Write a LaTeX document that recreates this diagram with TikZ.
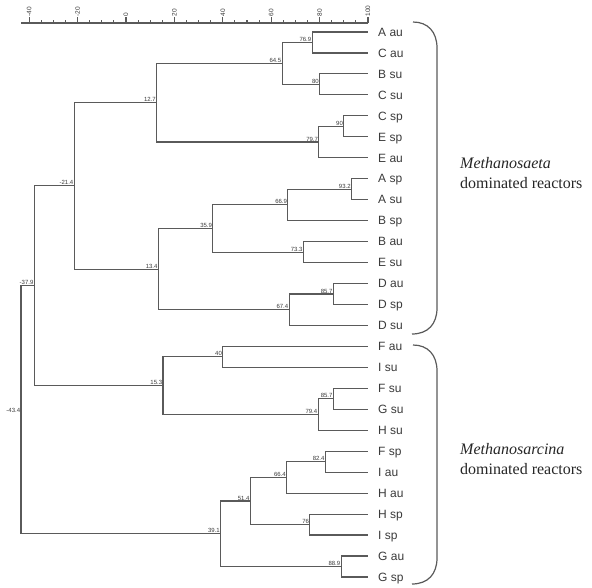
\documentclass[tikz,border=0pt]{standalone}
\usepackage{fontspec}
\setmainfont{Liberation Serif}
\setsansfont{Liberation Sans}
\definecolor{treegray}{HTML}{5A5A5A}
\definecolor{labelgray}{HTML}{3A3A3A}
\begin{document}
\begin{tikzpicture}[x=1pt, y=-1pt,
  link/.style={draw=treegray, line width=1.1pt},
  leaf/.style={anchor=west, inner xsep=10pt, inner ysep=0pt, text height=8.6pt,
    text depth=0pt, font=\sffamily\fontsize{12}{14}\selectfont, text=labelgray},
  val/.style={anchor=south east, inner sep=0.7pt, font=\sffamily\fontsize{6}{7}\selectfont, text=labelgray},
  axval/.style={rotate=90, anchor=west, inner sep=0.5pt, font=\sffamily\fontsize{6.5}{7}\selectfont, text=labelgray},
  brace/.style={draw=treegray, line width=1.2pt},
  grp/.style={anchor=west, align=left, inner sep=0pt, font=\fontsize{16}{20}\selectfont, text=black!85}
]
  \useasboundingbox (0,0) rectangle (592,588);

  % Axis
  \draw[link] (21,23) -- (368,23);
  \foreach \v in {-40,-35,...,100}
    \draw[link] ({126+2.42*\v},23) -- ++(0,-2.6);
  \foreach \v in {-40,-20,...,100} {
    \draw[link] ({126+2.42*\v},23) -- ++(0,-5.5);
    \node[axval] at ({126+2.42*\v},17) {\v};
  }

  % Leaves
  \node[leaf] (aau) at (368,32) {A au};
  \node[leaf] (cau) at (368,53) {C au};
  \node[leaf] (bsu) at (368,73.9) {B su};
  \node[leaf] (csu) at (368,94.9) {C su};
  \node[leaf] (csp) at (368,115.8) {C sp};
  \node[leaf] (esp) at (368,136.8) {E sp};
  \node[leaf] (eau) at (368,157.8) {E au};
  \node[leaf] (asp) at (368,178.7) {A sp};
  \node[leaf] (asu) at (368,199.7) {A su};
  \node[leaf] (bsp) at (368,220.6) {B sp};
  \node[leaf] (bau) at (368,241.6) {B au};
  \node[leaf] (esu) at (368,262.6) {E su};
  \node[leaf] (dau) at (368,283.5) {D au};
  \node[leaf] (dsp) at (368,304.5) {D sp};
  \node[leaf] (dsu) at (368,325.4) {D su};
  \node[leaf] (fau) at (368,346.4) {F au};
  \node[leaf] (isu) at (368,367.4) {I su};
  \node[leaf] (fsu) at (368,388.3) {F su};
  \node[leaf] (gsu) at (368,409.3) {G su};
  \node[leaf] (hsu) at (368,430.2) {H su};
  \node[leaf] (fsp) at (368,451.2) {F sp};
  \node[leaf] (iau) at (368,472.2) {I au};
  \node[leaf] (hau) at (368,493.1) {H au};
  \node[leaf] (hsp) at (368,514.1) {H sp};
  \node[leaf] (isp) at (368,535) {I sp};
  \node[leaf] (gau) at (368,556) {G au};
  \node[leaf] (gsp) at (368,577) {G sp};

  % Methanosaeta clusters
  \coordinate (n769) at (312.1,42.5);
  \coordinate (n80) at (319.6,84.4);
  \coordinate (n645) at (282.1,63.5);
  \coordinate (n90) at (343.8,126.3);
  \coordinate (n797) at (318.9,142);
  \coordinate (n127) at (156.7,102.8);
  \coordinate (n932) at (351.5,189.2);
  \coordinate (n669) at (287.9,204.9);
  \coordinate (n733) at (303.4,252.1);
  \coordinate (n359) at (212.9,228.5);
  \coordinate (n857a) at (333.4,294);
  \coordinate (n674) at (289.1,309.7);
  \coordinate (n134) at (158.4,269.1);
  \coordinate (n214) at (74.2,185.9);

  \draw[link] (n769) |- (aau.west);
  \draw[link] (n769) |- (cau.west);
  \draw[link] (n80) |- (bsu.west);
  \draw[link] (n80) |- (csu.west);
  \draw[link] (n645) |- (n769);
  \draw[link] (n645) |- (n80);
  \draw[link] (n90) |- (csp.west);
  \draw[link] (n90) |- (esp.west);
  \draw[link] (n797) |- (n90);
  \draw[link] (n797) |- (eau.west);
  \draw[link] (n127) |- (n645);
  \draw[link] (n127) |- (n797);
  \draw[link] (n932) |- (asp.west);
  \draw[link] (n932) |- (asu.west);
  \draw[link] (n669) |- (n932);
  \draw[link] (n669) |- (bsp.west);
  \draw[link] (n733) |- (bau.west);
  \draw[link] (n733) |- (esu.west);
  \draw[link] (n359) |- (n669);
  \draw[link] (n359) |- (n733);
  \draw[link] (n857a) |- (dau.west);
  \draw[link] (n857a) |- (dsp.west);
  \draw[link] (n674) |- (n857a);
  \draw[link] (n674) |- (dsu.west);
  \draw[link] (n134) |- (n359);
  \draw[link] (n134) |- (n674);
  \draw[link] (n214) |- (n127);
  \draw[link] (n214) |- (n134);

  % Methanosarcina clusters
  \coordinate (n40) at (222.8,356.9);
  \coordinate (n857b) at (333.4,398.8);
  \coordinate (n794) at (318.1,414.5);
  \coordinate (n153) at (163,385.7);
  \coordinate (n824) at (325.4,461.7);
  \coordinate (n664) at (286.7,477.4);
  \coordinate (n76) at (309.9,524.6);
  \coordinate (n514) at (250.4,501);
  \coordinate (n889) at (341.1,566.5);
  \coordinate (n391) at (220.6,533.8);

  \draw[link] (n40) |- (fau.west);
  \draw[link] (n40) |- (isu.west);
  \draw[link] (n857b) |- (fsu.west);
  \draw[link] (n857b) |- (gsu.west);
  \draw[link] (n794) |- (n857b);
  \draw[link] (n794) |- (hsu.west);
  \draw[link] (n153) |- (n40);
  \draw[link] (n153) |- (n794);
  \draw[link] (n824) |- (fsp.west);
  \draw[link] (n824) |- (iau.west);
  \draw[link] (n664) |- (n824);
  \draw[link] (n664) |- (hau.west);
  \draw[link] (n76) |- (hsp.west);
  \draw[link] (n76) |- (isp.west);
  \draw[link] (n514) |- (n664);
  \draw[link] (n514) |- (n76);
  \draw[link] (n889) |- (gau.west);
  \draw[link] (n889) |- (gsp.west);
  \draw[link] (n391) |- (n514);
  \draw[link] (n391) |- (n889);

  % Root
  \coordinate (n379) at (34.3,285.8);
  \coordinate (n434) at (21,409.8);
  \draw[link] (n379) |- (n214);
  \draw[link] (n379) |- (n153);
  \draw[link] (n434) |- (n379);
  \draw[link] (n434) |- (n391);

  % Values
  \node[val] (v769) at (n769) {76.9};
  \node[val] (v80) at (n80) {80};
  \node[val] (v645) at (n645) {64.5};
  \node[val] (v90) at (n90) {90};
  \node[val] (v797) at (n797) {79.7};
  \node[val] (v127) at (n127) {12.7};
  \node[val] (v932) at (n932) {93.2};
  \node[val] (v669) at (n669) {66.9};
  \node[val] (v733) at (n733) {73.3};
  \node[val] (v359) at (n359) {35.9};
  \node[val] (v857a) at (n857a) {85.7};
  \node[val] (v674) at (n674) {67.4};
  \node[val] (v134) at (n134) {13.4};
  \node[val] (v214) at (n214) {-21.4};
  \node[val] (v40) at (n40) {40};
  \node[val] (v857b) at (n857b) {85.7};
  \node[val] (v794) at (n794) {79.4};
  \node[val] (v153) at (n153) {15.3};
  \node[val] (v824) at (n824) {82.4};
  \node[val] (v664) at (n664) {66.4};
  \node[val] (v76) at (n76) {76};
  \node[val] (v514) at (n514) {51.4};
  \node[val] (v889) at (n889) {88.9};
  \node[val] (v391) at (n391) {39.1};
  \node[val] (v379) at (n379) {-37.9};
  \node[val] (v434) at ([yshift=-4pt]n434) {-43.4};

  % Brackets
  \draw[brace] (413,22) .. controls (428,22) and (437,32) .. (437,48)
    -- (437,308) .. controls (437,324) and (428,334) .. (412,334);
  \draw[brace] (413,345) .. controls (428,345) and (437,355) .. (437,371)
    -- (437,558) .. controls (437,574) and (428,584) .. (412,584);

  % Groups
  \node[grp] (saeta) at (460,173) {\textit{Methanosaeta}\\dominated reactors};
  \node[grp] (sarcina) at (460,459) {\textit{Methanosarcina}\\dominated reactors};
\end{tikzpicture}
\end{document}
